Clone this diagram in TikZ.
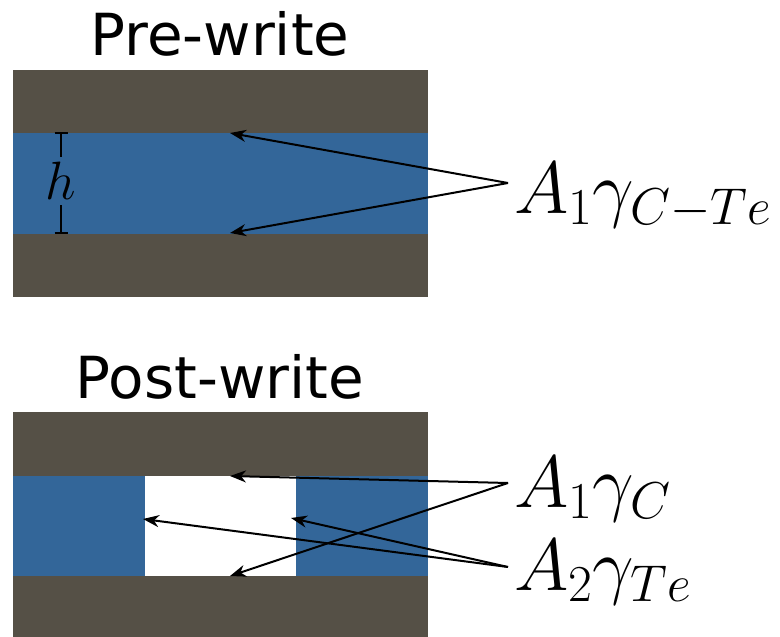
\RequirePackage{fix-cm}
\documentclass[tikz,border=0pt]{standalone}
\usepackage{fontspec}
\newfontfamily\titlefont{DejaVu Sans}
\usetikzlibrary{arrows.meta}
\definecolor{layergray}{RGB}{85,80,70}
\definecolor{layerblue}{RGB}{51,102,153}
\tikzset{
  graylayer/.style={fill=layergray,draw=none},
  bluelayer/.style={fill=layerblue,draw=none},
  titletext/.style={font=\titlefont\fontsize{58}{60}\selectfont,inner sep=0pt,anchor=base},
  mathlabel/.style={font=\fontsize{74}{80}\selectfont,inner sep=0pt,anchor=base west},
  pointer/.style={line width=2pt,-{Stealth[length=16pt,width=12pt,inset=5pt]}},
  hbar/.style={line width=1.3pt}
}
\begin{document}
\begin{tikzpicture}[x=1pt,y=-1pt]
\useasboundingbox (0,0) rectangle (780,637);
% ---- Pre-write ----
\node[titletext] (t1) at (220,55) {Pre-write};
\fill[graylayer] (13,70) rectangle (428,297);
\fill[bluelayer] (13,133) rectangle (428,234);
\coordinate (htop) at (61,133);
\coordinate (hbot) at (61,233);
\node[inner sep=0pt,minimum height=48pt,font=\fontsize{54}{58}\selectfont] (h) at (61,181) {$h$};
\draw[hbar] (htop) -- (h.north);
\draw[hbar] (h.south) -- (hbot);
\draw[hbar] ([xshift=-6.5pt]htop) -- ([xshift=6.5pt]htop);
\draw[hbar] ([xshift=-6.5pt]hbot) -- ([xshift=6.5pt]hbot);
\coordinate (c1) at (508,183);
\coordinate (p1a) at (230,133);
\coordinate (p1b) at (230,233);
\draw[pointer] (c1) -- (p1a);
\draw[pointer] (c1) -- (p1b);
\node[mathlabel] (l1) at (514,213) {$A_1\gamma_{C-Te}$};
% ---- Post-write ----
\node[titletext] (t2) at (220,398) {Post-write};
\fill[graylayer] (13,412) rectangle (428,637);
\fill[white] (13,476) rectangle (428,576);
\fill[bluelayer] (13,476) rectangle (145,576);
\fill[bluelayer] (296,476) rectangle (428,576);
\coordinate (c2) at (508,483);
\coordinate (c3) at (508,567);
\coordinate (p2a) at (230,476);
\coordinate (p2b) at (230,576);
\coordinate (p3a) at (143,519);
\coordinate (p3b) at (291,518);
\draw[pointer] (c2) -- (p2a);
\draw[pointer] (c2) -- (p2b);
\draw[pointer] (c3) -- (p3a);
\draw[pointer] (c3) -- (p3b);
\node[mathlabel] (l2) at (514,507) {$A_1\gamma_{C}$};
\node[mathlabel] (l3) at (514,590) {$A_2\gamma_{Te}$};
\end{tikzpicture}
\end{document}
